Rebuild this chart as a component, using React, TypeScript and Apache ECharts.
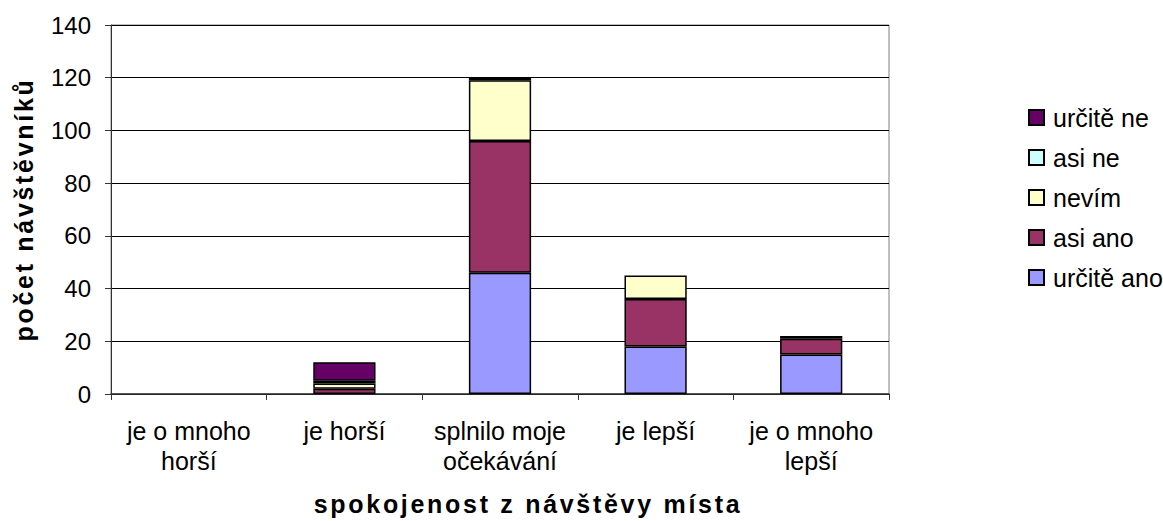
import React, { useEffect, useRef } from "react";
import * as echarts from "echarts";

const categories = ["je o mnoho\nhorší", "je horší", "splnilo moje\nočekávání", "je lepší", "je o mnoho\nlepší"];
const seriesNames = ["určitě ano", "asi ano", "nevím", "asi ne", "určitě ne"];
const urciteAno = [0, 0, 46, 18, 15];
const asiAno = [0, 2, 50, 18, 6];
const nevim = [0, 2, 23, 9, 0];
const asiNe = [0, 1, 1, 0, 0];
const urciteNe = [0, 7, 0, 0, 1];
const colors = ["#9999FF", "#993366", "#FFFFCC", "#CCFFFF", "#660066"];
const yTicks = { min: 0, max: 140, interval: 20 };
const xTitle = "spokojenost z návštěvy místa";
const yTitle = "počet návštěvníků";

export default function App() {
  const ref = useRef<HTMLDivElement>(null);
  useEffect(() => {
    if (!ref.current) return;
    const chart = echarts.init(ref.current, null, { renderer: "svg" });
    const values = [urciteAno, asiAno, nevim, asiNe, urciteNe];
    const font = "Liberation Sans, Arial, sans-serif";
    chart.setOption({
      animation: false,
      textStyle: { fontFamily: font },
      grid: { left: 111, top: 25, width: 778, height: 371, show: true, borderColor: "#808080", borderWidth: 1, backgroundColor: "transparent" },
      legend: {
        orient: "vertical",
        left: 1023,
        top: 100,
        itemWidth: 15,
        itemHeight: 15,
        itemGap: 15,
        icon: "rect",
        data: [...seriesNames].reverse(),
        textStyle: { fontSize: 25, color: "#000", fontFamily: font, padding: [0, 0, 0, 4] },
      },
      xAxis: {
        type: "category",
        data: categories,
        name: xTitle,
        nameLocation: "middle",
        nameGap: 97,
        nameTextStyle: { fontSize: 25, fontWeight: "bold", color: "#000", padding: [0, 0, 0, 56] },
        axisLine: { lineStyle: { color: "#333", width: 1.5 } },
        axisTick: { show: true, alignWithLabel: false, length: 6, lineStyle: { color: "#333" } },
        axisLabel: { fontSize: 25, color: "#000", lineHeight: 30, margin: 22, interval: 0 },
      },
      yAxis: {
        type: "value",
        min: yTicks.min,
        max: yTicks.max,
        interval: yTicks.interval,
        name: yTitle,
        nameLocation: "middle",
        nameGap: 75,
        nameTextStyle: { fontSize: 25, fontWeight: "bold", color: "#000" },
        axisLine: { show: true, lineStyle: { color: "#333" } },
        axisTick: { show: true, length: 6, lineStyle: { color: "#333" } },
        axisLabel: { fontSize: 24, color: "#000", margin: 20 },
        splitLine: { lineStyle: { color: "#000", width: 1 } },
      },
      series: seriesNames.map((name, i) => ({
        name,
        type: "bar",
        stack: "total",
        data: values[i].map((v) => (v === 0 ? null : v)),
        barWidth: "40%",
        itemStyle: { color: colors[i], borderColor: "#000", borderWidth: 1.5 },
      })),
    });
    ref.current.querySelectorAll("text").forEach((t) => {
      const s = t.textContent || "";
      if (s === xTitle || s === yTitle) {
        (t as SVGTextElement).style.letterSpacing = "2.7px";
      }
    });
    return () => chart.dispose();
  }, []);
  return (
    <div
      ref={ref}
      style={{ position: "fixed", left: 0, top: 0, width: 1163, height: 521, background: "#fff" }}
    />
  );
}
